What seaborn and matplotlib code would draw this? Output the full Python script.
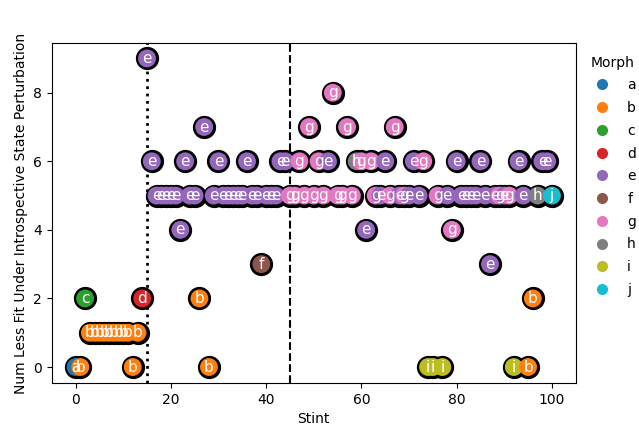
import matplotlib
matplotlib.use("Agg")
import matplotlib.pyplot as plt
import seaborn as sns
import pandas as pd

stints = list(range(0, 101))

morphs = [
    "a", "b", "c", "b", "b", "b", "b", "b", "b", "b",
    "b", "b", "b", "b", "d", "e", "e", "e", "e", "e",
    "e", "e", "e", "e", "e", "e", "b", "e", "b", "e",
    "e", "e", "e", "e", "e", "e", "e", "e", "e", "f",
    "e", "e", "e", "e", "e", "g", "g", "g", "g", "g",
    "g", "g", "g", "e", "g", "g", "g", "g", "g", "h",
    "g", "e", "g", "g", "e", "e", "g", "g", "e", "g",
    "e", "e", "e", "g", "i", "i", "g", "i", "e", "g",
    "e", "e", "e", "e", "e", "e", "e", "e", "e", "g",
    "e", "g", "i", "e", "e", "b", "b", "h", "e", "e",
    "j",
]

num_less_fit = [
    0, 0, 2, 1, 1, 1, 1, 1, 1, 1,
    1, 1, 0, 1, 2, 9, 6, 5, 5, 5,
    5, 5, 4, 6, 5, 5, 2, 7, 0, 5,
    6, 5, 5, 5, 5, 5, 6, 5, 5, 3,
    5, 5, 5, 6, 6, 5, 5, 6, 5, 7,
    5, 6, 5, 6, 8, 5, 5, 7, 5, 6,
    6, 4, 6, 5, 5, 6, 5, 7, 5, 5,
    5, 6, 5, 6, 0, 0, 5, 0, 5, 4,
    6, 5, 5, 5, 5, 6, 5, 3, 5, 5,
    5, 5, 0, 6, 5, 0, 2, 5, 6, 6,
    5,
]

morph_order = ["a", "b", "c", "d", "e", "f", "g", "h", "i", "j"]
vlines_dotted = [15]
vlines_dashed = [45]

ylabel = "Num Less Fit Under Introspective State Perturbation"

df = pd.DataFrame({"Stint": stints, ylabel: num_less_fit, "Morph": morphs})

fig = plt.figure(figsize=(6.39, 4.30), dpi=100)
ax = fig.add_axes([0.081, 0.109, 0.82, 0.791])

for x in vlines_dotted:
    ax.axvline(x, color="black", linestyle=":", linewidth=2, zorder=1)
for x in vlines_dashed:
    ax.axvline(x, color="black", linestyle="--", linewidth=1.5, zorder=1)

# black outline layer underneath
sns.scatterplot(data=df, x="Stint", y=ylabel, color="black", s=280,
                linewidth=0, ax=ax, zorder=2, legend=False)
# coloured fill layer
sns.scatterplot(data=df, x="Stint", y=ylabel, hue="Morph", hue_order=morph_order,
                palette="tab10", s=165, linewidth=0, ax=ax, zorder=3)

for sx, sy, m in zip(df["Stint"], df[ylabel], df["Morph"]):
    ax.text(sx, sy, m, color="white", ha="center", va="center",
            fontsize=11, fontweight="medium", zorder=4)

ax.set_yticks([0, 2, 4, 6, 8])
ax.set_xticks([0, 20, 40, 60, 80, 100])
ax.set_xlim(-5, 105)
ax.set_ylim(-0.47, 9.45)

leg = ax.get_legend()
for h in leg.legend_handles:
    try:
        h.set_markersize(8)
        h.set_markeredgewidth(0)
    except Exception:
        pass
sns.move_legend(ax, "upper left", bbox_to_anchor=(1.0, 1.0), frameon=False,
                title="Morph", labelspacing=0.63)

fig.savefig("out.png", dpi=100)
